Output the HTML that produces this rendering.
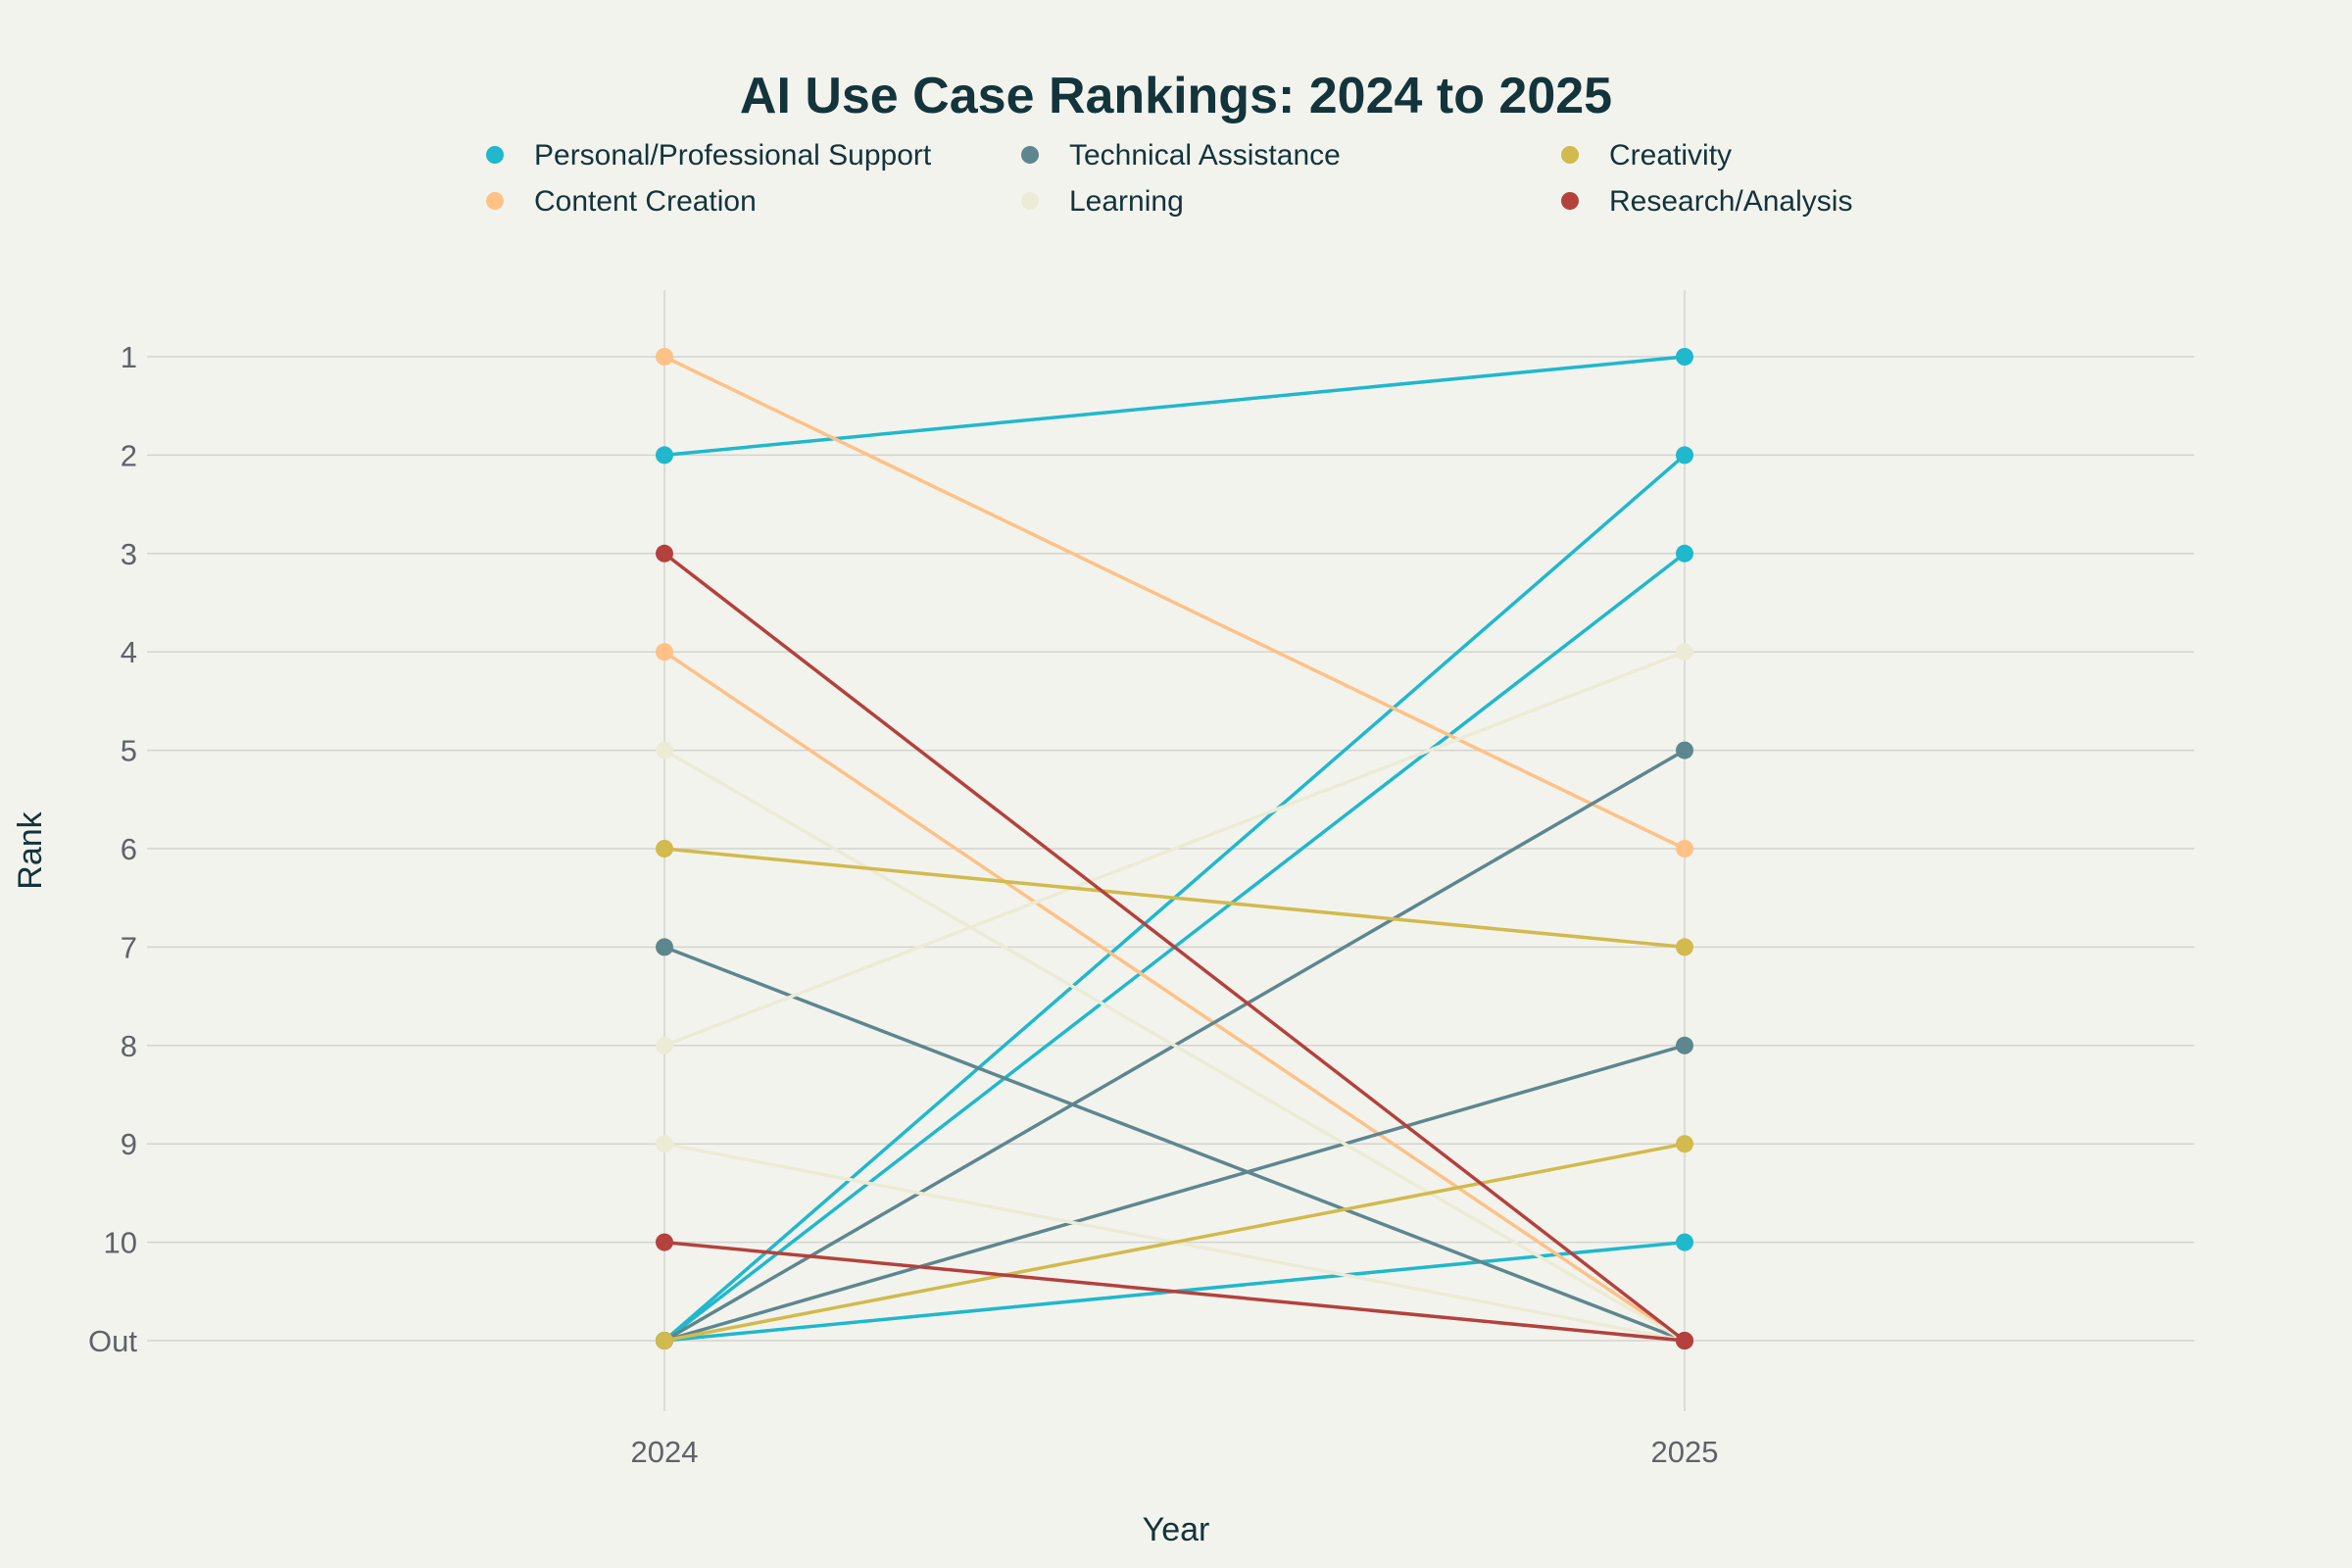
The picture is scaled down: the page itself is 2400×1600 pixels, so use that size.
<!DOCTYPE html>
<html><head><meta charset="utf-8"><style>
html,body{margin:0;padding:0;background:#f3f3ee;}
svg{display:block;font-family:"Liberation Sans",sans-serif;}
</style></head><body>
<svg id="chart" width="2400" height="1600" viewBox="0 0 2400 1600">
<rect width="2400" height="1600" fill="#f3f3ee"/>
<text x="1200" y="115" text-anchor="middle" font-size="52" font-weight="bold" fill="#13343b">AI Use Case Rankings: 2024 to 2025</text>
<g id="grid"></g><g id="axes"></g><g id="legend"></g><g id="marks"></g>
<text x="1200" y="1572" text-anchor="middle" font-size="34" fill="#13343b">Year</text>
<text x="42" y="868" text-anchor="middle" font-size="34" fill="#13343b" transform="rotate(-90 42 868)">Rank</text>
</svg>
<script>
const years = ["2024", "2025"];
const rankLabels = ["1","2","3","4","5","6","7","8","9","10","Out"];
const seriesNames = ["Personal/Professional Support","Content Creation","Technical Assistance","Learning","Creativity","Research/Analysis"];
const seriesColors = ["#1fb8cd","#ffc185","#5d878f","#ecebd5","#d2ba4c","#b4413c"];
// each pair: [rank2024, rank2025], 11 = Out
const personalPairs = [[2,1],[11,2],[11,3],[11,10]];
const contentPairs = [[1,6],[4,11]];
const technicalPairs = [[7,11],[11,5],[11,8]];
const learningPairs = [[5,11],[8,4],[9,11]];
const creativityPairs = [[6,7],[11,9]];
const researchPairs = [[3,11],[10,11]];
const allPairs = [personalPairs, contentPairs, technicalPairs, learningPairs, creativityPairs, researchPairs];

const NS = "http://www.w3.org/2000/svg";
const x0 = 678, x1 = 1719;
function xScale(i){ return x0 + i*(x1-x0); }
function yScale(r){ return 364 + (r-1)*100.4; }
function mk(tag, attrs, parent){ const e=document.createElementNS(NS,tag); for(const k in attrs) e.setAttribute(k,attrs[k]); parent.appendChild(e); return e; }
const grid=document.getElementById('grid'), axes=document.getElementById('axes'), legend=document.getElementById('legend'), marks=document.getElementById('marks');

rankLabels.forEach((lab,i)=>{
  const y=yScale(i+1);
  const l=mk('line',{x1:150,x2:2239,y1:y,y2:y,stroke:'#d3d3cf','stroke-width':1.5},grid);
  
  
  const t=mk('text',{x:140,y:y+11,'text-anchor':'end','font-size':31,fill:'#5f6368'},axes);
  t.textContent=lab;
  
  
});
years.forEach((yr,i)=>{
  const x=xScale(i);
  const l=mk('line',{x1:x,x2:x,y1:296,y2:1440,stroke:'#d3d3cf','stroke-width':1.5},grid);
  
  
  const t=mk('text',{x:x,y:1492,'text-anchor':'middle','font-size':31,fill:'#5f6368'},axes);
  t.textContent=yr;
  
  
});

const legX=[505,1051,1602], legY=[158,205];
seriesNames.forEach((n,i)=>{
  const cx=legX[Math.floor(i/2)], cy=legY[i%2];
  const g=mk('g',{},legend);
  
  
  mk('circle',{cx:cx,cy:cy,r:9,fill:seriesColors[i]},g);
  const t=mk('text',{x:cx+40,y:cy+10,'font-size':30,fill:'#13343b'},g);
  t.textContent=n;
});

allPairs.forEach((pairs,si)=>{
  const c=seriesColors[si];
  pairs.forEach(p=>{
    const g=mk('g',{},marks);
    
    
    mk('line',{x1:xScale(0),y1:yScale(p[0]),x2:xScale(1),y2:yScale(p[1]),stroke:c,'stroke-width':3.5},g);
    p.forEach((r,j)=>{
      const pt=mk('circle',{cx:xScale(j),cy:yScale(r),r:9,fill:c},g);
      
      
    });
  });
});
</script>
</body></html>
